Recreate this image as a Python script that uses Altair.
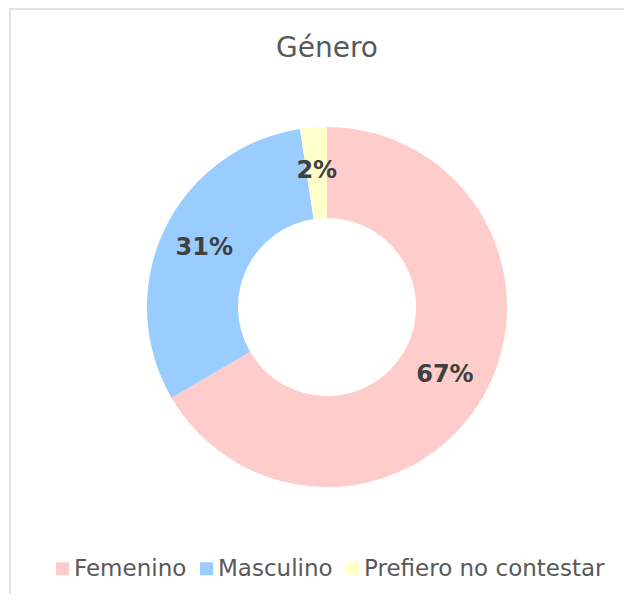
import altair as alt
import pandas as pd

categories = ["Femenino", "Masculino", "Prefiero no contestar"]
values = [66.6, 31.0, 2.4]
labels = ["67%", "31%", "2%"]
colors = ["#FFCCCC", "#99CCFF", "#FFFFCC"]
title_text = ["Género"]

df = pd.DataFrame({
    "category": categories,
    "value": values,
    "label": labels,
    "idx": list(range(len(categories))),
})
tdf = pd.DataFrame({"t": title_text})

CX, CY = 319, 299
FONT = "DejaVu Sans"

base = alt.Chart(df).encode(
    theta=alt.Theta("value:Q", stack=True),
    order=alt.Order("idx:Q"),
    x=alt.value(CX),
    y=alt.value(CY),
)

arcs = base.mark_arc(innerRadius=89, outerRadius=180).encode(
    color=alt.Color(
        "category:N",
        scale=alt.Scale(domain=categories, range=colors),
        legend=alt.Legend(
            orient="none", legendX=43, legendY=549, direction="horizontal",
            title=None, symbolType="square", symbolSize=169, symbolStrokeWidth=0,
            labelFontSize=23, labelFont=FONT, labelColor="#595959",
            columnPadding=8, labelOffset=0, labelLimit=0, padding=0,
        ),
    )
)

texts = base.mark_text(
    radius=136, fontSize=24, fontWeight="bold", color="#404040", font=FONT
).encode(text="label:N", detail="category:N")

title = alt.Chart(tdf).mark_text(
    fontSize=28, color="#595959", font=FONT, baseline="middle", align="center"
).encode(text="t:N", x=alt.value(CX), y=alt.value(41))

border_top = alt.Chart(tdf).mark_rule(color="#d9d9d9", strokeWidth=1.5).encode(
    x=alt.value(2), x2=alt.value(616), y=alt.value(1)
)
border_left = alt.Chart(tdf).mark_rule(color="#d9d9d9", strokeWidth=1.5).encode(
    x=alt.value(2), y=alt.value(1), y2=alt.value(586)
)

chart = alt.layer(border_top, border_left, arcs, texts, title).properties(
    width=616, height=586, padding=0, autosize=alt.AutoSizeParams(type="none")
).configure_view(stroke=None)

chart.save("out.html", embed_options={"renderer": "svg", "actions": False})
